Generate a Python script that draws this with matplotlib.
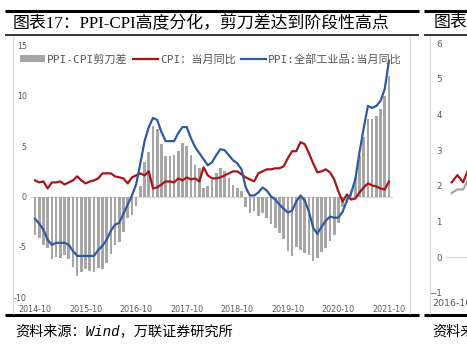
import matplotlib
matplotlib.use("Agg")
import matplotlib.pyplot as plt
from matplotlib.lines import Line2D
from matplotlib.patches import Patch
from matplotlib.font_manager import FontProperties
import numpy as np

# ---------------- data ----------------
cpi = [1.6, 1.4, 1.5,
       0.8, 1.4, 1.4, 1.5, 1.2, 1.4, 1.6, 2.0, 1.6, 1.3, 1.5, 1.6,
       1.8, 2.3, 2.3, 2.3, 2.0, 1.9, 1.8, 1.3, 1.9, 2.1, 2.3, 2.1,
       2.5, 0.8, 0.9, 1.2, 1.5, 1.5, 1.4, 1.8, 1.6, 1.9, 1.7, 1.8,
       1.5, 2.9, 2.1, 1.8, 1.8, 1.9, 2.1, 2.3, 2.5, 2.5, 2.2, 1.9,
       1.7, 1.5, 2.3, 2.5, 2.7, 2.7, 2.8, 2.8, 3.0, 3.8, 4.5, 4.5,
       5.4, 5.2, 4.3, 3.3, 2.4, 2.5, 2.7, 2.4, 1.7, 0.5, -0.5, 0.2,
       -0.3, -0.2, 0.4, 0.9, 1.3, 1.1, 1.0, 0.8, 0.7, 1.5]
ppi = [-2.2, -2.7, -3.3,
       -4.3, -4.8, -4.6, -4.6, -4.6, -4.8, -5.4, -5.9, -5.9, -5.9, -5.9, -5.9,
       -5.3, -4.9, -4.3, -3.4, -2.8, -2.6, -1.7, -0.8, 0.1, 1.2, 3.3, 5.5,
       6.9, 7.8, 7.6, 6.4, 5.5, 5.5, 5.5, 6.3, 6.9, 6.9, 5.8, 4.9,
       4.3, 3.7, 3.1, 3.4, 4.1, 4.7, 4.6, 4.1, 3.6, 3.3, 2.7, 0.9,
       0.1, 0.1, 0.4, 0.9, 0.6, 0.0, -0.3, -0.8, -1.2, -1.6, -1.4, -0.5,
       0.1, -0.4, -1.5, -3.1, -3.7, -3.0, -2.4, -2.0, -2.1, -2.1, -1.5, -0.4,
       0.3, 1.7, 4.4, 6.8, 9.0, 8.8, 9.0, 9.5, 10.7, 13.5]
gap = [-3.8, -4.1, -4.8,
       -5.1, -6.2, -6.0, -6.1, -5.8, -6.2, -7.0, -7.9, -7.5, -7.2, -7.4, -7.5,
       -7.1, -7.2, -6.6, -5.7, -4.8, -4.5, -3.5, -2.1, -1.8, -0.9, 1.0, 3.4,
       4.4, 7.0, 6.7, 5.2, 4.0, 4.0, 4.1, 4.5, 5.3, 5.0, 4.1, 3.1,
       2.8, 0.8, 1.0, 1.6, 2.3, 2.8, 2.5, 1.8, 1.1, 0.8, 0.5, -1.0,
       -1.6, -1.4, -1.9, -1.6, -2.1, -2.7, -3.1, -3.6, -4.2, -5.4, -5.9, -5.0,
       -5.3, -5.6, -5.8, -6.4, -6.1, -5.5, -5.1, -4.4, -3.8, -2.6, -1.0, -0.6,
       0.6, 1.9, 4.0, 5.9, 7.7, 7.7, 8.0, 8.7, 10.0, 12.0]
x_tick_pos = [0, 12, 24, 36, 48, 60, 72, 84]
x_tick_labels = ["2014-10", "2015-10", "2016-10", "2017-10",
                 "2018-10", "2019-10", "2020-10", "2021-10"]
y_ticks = [-10, -5, 0, 5, 10, 15]
y_tick_labels = ["-10", "-5", "0", "5", "10", "15"]
legend_labels = ["PPI-CPI剪刀差", "CPI：当月同比", "PPI:全部工业品:当月同比"]

# neighbouring (cropped) chart
cpi_right = [2.1, 2.3, 2.1, 2.5, 0.8]
core_right = [1.8, 1.9, 1.9, 2.2, 2.1]
right_y_ticks = [-1, 0, 1, 2, 3, 4, 5, 6]
right_x_label = ["2016-10"]

title_text = "图表17：PPI-CPI高度分化，剪刀差达到阶段性高点"
title_right = "图表18"
source_text = "资料来源：Wind，万联证券研究所"

# ---------------- styling ----------------
W, H = 467, 346
BAR = "#a6a6a6"
RED = "#a8141a"
BLUE = "#2f5aa3"
TXT = "#595959"
FRAME = "#d9d9d9"

fig = plt.figure(figsize=(W / 100, H / 100), dpi=100)
fig.patch.set_facecolor("white")

def fx(px):
    return px / W

def fy(py):
    return (H - py) / H

# ---------------- main axes ----------------
ax = fig.add_axes([fx(31), fy(297.2), fx(393) - fx(31), fy(45.5) - fy(297.2)])
x = np.arange(len(cpi))
ax.bar(x, gap, width=0.62, color=BAR, zorder=2, label=legend_labels[0])
ax.axhline(0, color=FRAME, lw=1.0, zorder=1)
ax.plot(x, cpi, color=RED, lw=1.6, zorder=3, solid_joinstyle="round", label=legend_labels[1])
ax.plot(x, ppi, color=BLUE, lw=1.6, zorder=4, solid_joinstyle="round", label=legend_labels[2])
ax.set_xlim(-0.95, 84.95)
ax.set_ylim(-10, 15)
ax.set_yticks(y_ticks)
ax.set_yticklabels(y_tick_labels)
ax.set_xticks(x_tick_pos)
ax.set_xticklabels(x_tick_labels)
ax.tick_params(axis="y", length=0, pad=3, labelsize=5.8, labelcolor=TXT)
ax.tick_params(axis="x", length=0, pad=5.5, labelsize=5.8, labelcolor=TXT)
for s in ax.spines.values():
    s.set_visible(False)
ax.patch.set_alpha(0)

leg_prop = FontProperties(family=["DejaVu Sans Mono", "Noto Sans CJK SC"], size=8)
handles = [Patch(facecolor=BAR, edgecolor="none"),
           Line2D([0], [0], color=RED, lw=1.6),
           Line2D([0], [0], color=BLUE, lw=1.6)]
leg = fig.legend(handles, legend_labels, loc="center left",
                 bbox_to_anchor=(fx(20), fy(59)), bbox_transform=fig.transFigure,
                 ncol=3, frameon=False, prop=leg_prop, handlelength=2.25,
                 handleheight=0.6, handletextpad=0.2, columnspacing=0.45,
                 borderpad=0, borderaxespad=0)
for t in leg.get_texts():
    t.set_color(TXT)

# ---------------- cropped neighbour axes ----------------
ax2 = fig.add_axes([fx(446), fy(293), fx(746) - fx(446), fy(43) - fy(293)])
xr = np.arange(len(cpi_right))
ax2.axhline(0, color=FRAME, lw=1.0, zorder=1)
ax2.plot(xr, core_right, color=BAR, lw=1.6, zorder=2)
ax2.plot(xr, cpi_right, color=RED, lw=1.6, zorder=3)
ax2.set_xlim(-1.0, 51.6)
ax2.set_ylim(-1, 6)
ax2.set_yticks(right_y_ticks)
ax2.set_xticks([0])
ax2.set_xticklabels(right_x_label)
ax2.tick_params(axis="y", length=0, pad=3, labelsize=6.3, labelcolor=TXT)
ax2.tick_params(axis="x", length=0, pad=4, labelsize=6.8, labelcolor=TXT)
for s in ax2.spines.values():
    s.set_visible(False)
ax2.patch.set_alpha(0)

# ---------------- frame / decoration ----------------
def hline(y, x0, x1, lw, color="black"):
    fig.add_artist(Line2D([fx(x0), fx(x1)], [fy(y), fy(y)], lw=lw, color=color,
                          transform=fig.transFigure, solid_capstyle="butt"))

def vline(xp, y0, y1, lw, color):
    fig.add_artist(Line2D([fx(xp), fx(xp)], [fy(y0), fy(y1)], lw=lw, color=color,
                          transform=fig.transFigure, solid_capstyle="butt"))

hline(10.5, 5, 419, 2.2)
hline(10.5, 424, 467, 2.2)
hline(34.5, 5, 419, 1.1)
hline(34.5, 424, 467, 1.1)
hline(315, 5, 419, 2.2)
hline(315, 424, 467, 2.2)
vline(13, 35.5, 313.5, 0.8, FRAME)
vline(410, 35.5, 313.5, 0.8, FRAME)
vline(430, 35.5, 313.5, 0.8, FRAME)

title_font = ["Liberation Serif", "Noto Sans CJK SC"]
fig.text(fx(13), fy(23.5), title_text, ha="left", va="center", fontsize=12.2,
         family=title_font, color="black")
fig.text(fx(434), fy(23.5), title_right, ha="left", va="center", fontsize=12.2,
         family=title_font, color="black")

src_font = ["Liberation Mono", "Noto Sans CJK SC"]
fig.text(fx(15), fy(331), source_text, ha="left", va="center", fontsize=10.2,
         family=src_font, style="italic", color="black")
fig.text(fx(432), fy(331), source_text, ha="left", va="center", fontsize=10.2,
         family=src_font, style="italic", color="black")

fig.savefig("out.png", dpi=100)
